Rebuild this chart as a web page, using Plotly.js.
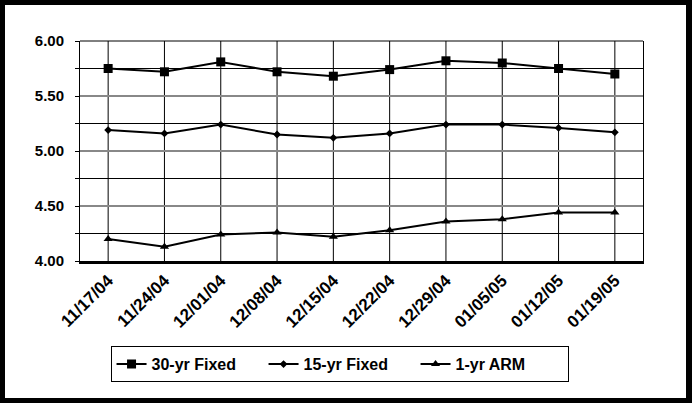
<!DOCTYPE html>
<html>
<head>
<meta charset="utf-8">
<script src="https://cdn.plot.ly/plotly-3.0.1.min.js"></script>
<style>
html, body { margin: 0; padding: 0; background: #000; }
#chart { position: absolute; left: 5px; top: 5px; width: 681px; height: 393px; background: #fff; }
#chart .xgrid, #chart .ygrid { shape-rendering: auto !important; }
</style>
</head>
<body>
<div id="chart"></div>
<script>
const dates = ["11/17/04","11/24/04","12/01/04","12/08/04","12/15/04","12/22/04","12/29/04","01/05/05","01/12/05","01/19/05"];
const fixed30 = [5.75, 5.72, 5.81, 5.72, 5.68, 5.74, 5.82, 5.80, 5.75, 5.70];
const fixed15 = [5.19, 5.16, 5.24, 5.15, 5.12, 5.16, 5.24, 5.24, 5.21, 5.17];
const arm1 = [4.20, 4.13, 4.24, 4.26, 4.22, 4.28, 4.36, 4.38, 4.44, 4.44];
const seriesNames = ["30-yr Fixed", "15-yr Fixed", "1-yr ARM"];
const yTicks = [4.0, 4.5, 5.0, 5.5, 6.0];

const lineStyle = {color: "#000", width: 2};
const traces = [
  {x: dates, y: fixed30, name: seriesNames[0], type: "scatter", mode: "lines+markers",
   line: lineStyle, marker: {symbol: "square", size: 9, color: "#000"}},
  {x: dates, y: fixed15, name: seriesNames[1], type: "scatter", mode: "lines+markers",
   line: lineStyle, marker: {symbol: "diamond", size: 6, color: "#000"}},
  {x: dates, y: arm1, name: seriesNames[2], type: "scatter", mode: "lines+markers",
   line: lineStyle, marker: {symbol: "triangle-up", size: 8, color: "#000"}}
];

const FAM = "Liberation Sans, Arial, sans-serif";
const layout = {
  width: 681, height: 393,
  margin: {l: 75, r: 43, t: 36, b: 137},
  paper_bgcolor: "#fff", plot_bgcolor: "#fff",
  showlegend: true,
  font: {family: FAM, color: "#000"},
  xaxis: {
    type: "category", range: [-0.5, dates.length - 0.5], automargin: false,
    showgrid: true, gridcolor: "black", gridwidth: 1,
    showline: true, linecolor: "black", linewidth: 3,
    ticks: "", tickangle: -45,
    tickfont: {family: FAM, size: 17, color: "#000", weight: 700},
    zeroline: false
  },
  yaxis: {
    range: [4, 6], tickvals: yTicks, tickformat: ".2f", automargin: false,
    showgrid: true, gridcolor: "#888888", gridwidth: 2,
    ticks: "outside", ticklen: 4, tickcolor: "black", ticklabelstandoff: 8,
    minor: {dtick: 0.25, tick0: 4, showgrid: true, gridcolor: "black", gridwidth: 1, ticks: "outside", ticklen: 4, tickcolor: "black"},
    showline: true, linecolor: "black", linewidth: 1, mirror: true,
    tickfont: {family: FAM, size: 15, color: "#000", weight: 700},
    zeroline: false
  },
  shapes: [
    {type: "line", xref: "paper", yref: "paper", x0: 0, x1: 1, y0: 1, y1: 1, line: {color: "#000", width: 1}}
  ],
  legend: {
    orientation: "h", x: 0.461, xanchor: "center", y: -0.387, yanchor: "top",
    bordercolor: "#000", borderwidth: 1, bgcolor: "#fff",
    font: {family: FAM, size: 16, color: "#000", weight: 700},
    entrywidth: 107, entrywidthmode: "pixels"
  }
};

Plotly.newPlot("chart", traces, layout, {displayModeBar: false});
</script>
</body>
</html>
